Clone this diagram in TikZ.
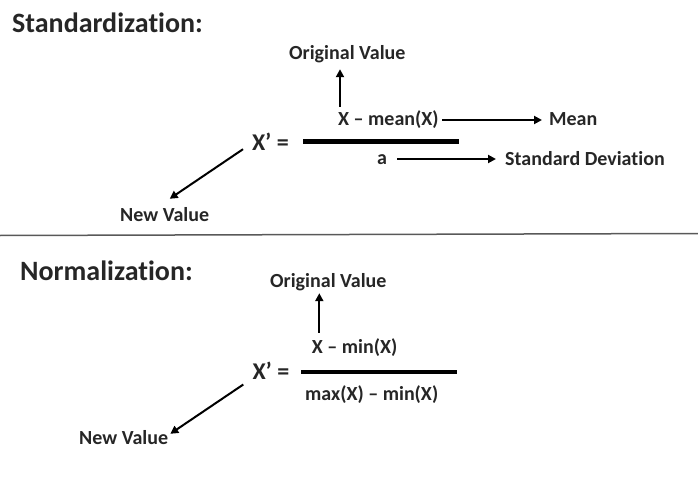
\documentclass[tikz,border=0pt]{standalone}
\usepackage{fontspec}
\setmainfont{Carlito}[Ligatures=NoCommon]
\usetikzlibrary{arrows.meta,positioning,calc}
\definecolor{Ink}{HTML}{262626}
\definecolor{Rule}{HTML}{595959}

\begin{document}
\begin{tikzpicture}[x=1pt,y=-1pt,>={Triangle[length=8pt,width=8pt]},
    every node/.style={inner sep=0pt,text=Ink},
    title/.style={anchor=base west,font=\fontsize{28}{32}\selectfont\bfseries},
    lbl/.style={anchor=base west,font=\fontsize{20}{24}\selectfont\bfseries,text height=14pt,text depth=2pt},
    lhs/.style={anchor=base west,font=\fontsize{24}{28}\selectfont\bfseries,text height=17pt,text depth=2pt},
    fracbar/.style={fill=black,minimum width=156pt,minimum height=4.5pt},
    arr/.style={->,line width=2pt,draw=black}]

    \useasboundingbox (0,0) rectangle (698,481);

    % standardization
    \node[title] (stdtitle) at (12,33) {Standardization:};
    \node[lbl] (stdorig) at (289,59.5) {Original Value};
    \node[lbl] (stdnum) at (338,126) {X – mean(X)};
    \node[lbl] (stdmean) at (549,126) {Mean};
    \node[lhs] (stdlhs) at (252,151) {X’ =};
    \node[fracbar] (stdbar) at (381,141.7) {};
    \node[lbl] (stdden) at (377,165) {a};
    \node[lbl] (stdsd) at (505,166) {Standard Deviation};
    \node[lbl] (stdnew) at (120,221.5) {New Value};

    \draw[arr,shorten >=12.5pt] ([xshift=2pt,yshift=5pt]stdnum.north west)
      -- ([xshift=2pt,yshift=5pt]stdnum.north west |- stdorig.south);
    \draw[arr,shorten <=3.5pt,shorten >=7pt] (stdnum.east) -- (stdnum.east -| stdmean.west);
    \draw[arr,shorten <=10pt,shorten >=9pt] (stdden.east) -- (stdden.east -| stdsd.west);
    \draw[arr] ([xshift=-9pt,yshift=4pt]stdlhs.south west) -- ([xshift=5pt,yshift=8.5pt]stdnew.north);

    % separator
    \draw[draw=Rule,line width=1.5pt] (0,235.5) -- (698,233.5);

    % normalization
    \node[title] (nrmtitle) at (20,280.5) {Normalization:};
    \node[lbl] (nrmorig) at (270,287) {Original Value};
    \node[lbl] (nrmnum) at (311.7,353) {X – min(X)};
    \node[lhs] (nrmlhs) at (252.5,379) {X’ =};
    \node[fracbar] (nrmbar) at (378.7,372) {};
    \node[lbl] (nrmden) at (305,400) {max(X) – min(X)};
    \node[lbl] (nrmnew) at (79,444) {New Value};

    \draw[arr,shorten >=10pt] ([xshift=7.6pt,yshift=6pt]nrmnum.north west)
      -- ([xshift=7.6pt,yshift=6pt]nrmnum.north west |- nrmorig.south);
    \draw[arr] ([xshift=-9.2pt,yshift=-3.3pt]nrmlhs.south west) -- ([xshift=2pt,yshift=-4pt]nrmnew.north east);
\end{tikzpicture}
\end{document}
